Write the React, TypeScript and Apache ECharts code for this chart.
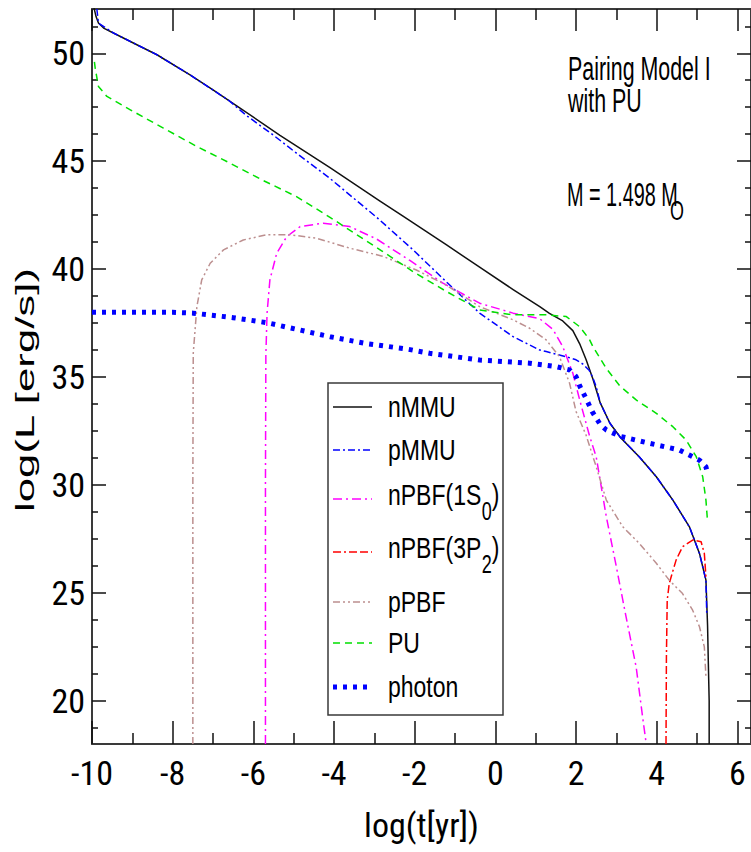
import React, { useEffect, useRef } from "react";
import * as echarts from "echarts";

// ---------- data ----------
const xMajorTicks = [-10, -8, -6, -4, -2, 0, 2, 4, 6];
const xMinorTicks = [-9, -7, -5, -3, -1, 1, 3, 5];
const yMajorTicks = [20, 25, 30, 35, 40, 45, 50];
const yMinorTicks = [
  18.75, 21.25, 22.5, 23.75, 26.25, 27.5, 28.75, 31.25, 32.5, 33.75, 36.25, 37.5, 38.75,
  41.25, 42.5, 43.75, 46.25, 47.5, 48.75, 51.25,
];

const nMMU = [
  [-9.95, 52.1], [-9.9, 51.7], [-9.84, 51.4], [-9.7, 51.15], [-9.47, 50.94], [-9.0, 50.5],
  [-8.39, 49.93], [-7.57, 49.0], [-7.0, 48.3], [-6.33, 47.46], [-5.34, 46.2], [-4.1, 44.7],
  [-2.86, 43.15], [-2.29, 42.45], [-1.21, 41.12], [-0.4, 40.1], [0.44, 39.05], [1.1, 38.26],
  [1.34, 37.95], [1.67, 37.6], [1.92, 37.15], [2.1, 36.5], [2.25, 35.8], [2.42, 34.9],
  [2.6, 33.8], [2.84, 32.86], [3.1, 32.2], [3.57, 31.3], [3.99, 30.38], [4.4, 29.3],
  [4.81, 28.06], [5.06, 26.83], [5.22, 25.59], [5.26, 23.5], [5.28, 21.7], [5.3, 20.0], [5.3, 18],
];
const pMMU = [
  [-9.88, 52.05], [-9.84, 51.4], [-9.47, 50.94], [-8.39, 49.93], [-7.57, 49.0], [-6.6, 47.8],
  [-6.16, 47.1], [-5.5, 46.2], [-4.93, 45.37], [-4.1, 44.2], [-2.9, 42.33],
  [-2.04, 40.89], [-1.21, 39.4], [-0.39, 37.96], [0.44, 36.87], [1.1, 36.25], [1.26, 36.18],
  [1.76, 35.94], [2.0, 35.8], [2.17, 35.6], [2.33, 35.3], [2.42, 34.95], [2.5, 34.55],
  [2.6, 33.8], [2.84, 32.86], [3.1, 32.2], [3.57, 31.3], [3.99, 30.38], [4.4, 29.3],
  [4.81, 28.06], [5.06, 26.83], [5.22, 25.59], [5.24, 24.0],
];
const nPBF1S0 = [
  [-5.7, 18], [-5.7, 30], [-5.69, 36], [-5.66, 37.96], [-5.59, 39.5], [-5.42, 40.74],
  [-5.17, 41.51], [-4.84, 41.97], [-4.27, 42.13], [-3.61, 41.97], [-2.95, 41.4], [-2.12, 40.4],
  [-1.3, 39.35], [-0.39, 38.42], [0.44, 37.96], [1.1, 37.7], [1.43, 37.2], [1.67, 36.41],
  [1.92, 35.18], [2.09, 33.94], [2.33, 32.3], [2.5, 31.3], [2.75, 28.53], [3.0, 26.2],
  [3.24, 23.89], [3.49, 21.57], [3.65, 19.25], [3.74, 18],
];
const nPBF3P2 = [
  [4.23, 18], [4.24, 22], [4.26, 24.66], [4.31, 25.44], [4.48, 26.52], [4.64, 27.14],
  [4.89, 27.45], [5.1, 27.37], [5.18, 26.83], [5.22, 25.74],
];
const pPBF = [
  [-7.5, 18], [-7.5, 30], [-7.49, 36.1], [-7.4, 38.26], [-7.28, 39.5], [-7.07, 40.27],
  [-6.74, 40.89], [-6.25, 41.35], [-5.67, 41.59], [-5.09, 41.59], [-4.43, 41.43], [-3.61, 40.97],
  [-2.8, 40.6], [-1.96, 39.96], [-1.21, 39.25], [-0.39, 38.26], [0.44, 37.65], [0.85, 37.26],
  [1.26, 36.72], [1.59, 35.94], [1.84, 34.71], [2.0, 33.4], [2.25, 32.3], [2.5, 30.84],
  [2.75, 29.3], [3.16, 28.06], [3.57, 27.29], [3.99, 26.37], [4.31, 25.59], [4.64, 24.97],
  [4.89, 24.2], [5.06, 23.43], [5.18, 22.5], [5.22, 21.1],
];
const PU = [
  [-9.94, 49.6], [-9.92, 49.3], [-9.84, 48.46], [-9.63, 48.0], [-9.05, 47.38], [-8.23, 46.53],
  [-7.4, 45.68], [-6.58, 44.91], [-5.75, 44.1], [-4.93, 43.36], [-4.1, 42.4], [-2.82, 40.85],
  [-2.04, 39.88], [-1.21, 38.96], [-0.39, 38.11], [0.44, 37.88], [1.26, 37.88], [1.76, 37.8],
  [2.09, 37.33], [2.33, 36.75], [2.42, 36.4], [2.75, 35.4], [3.08, 34.6], [3.49, 33.94],
  [3.99, 33.32], [4.4, 32.7], [4.73, 32.08], [4.98, 31.31], [5.14, 30.38], [5.22, 29.3],
  [5.26, 28.3],
];
const photon = [
  [-10, 38.0], [-9, 38.0], [-8, 38.0], [-7.49, 37.96], [-6.5, 37.75], [-5.67, 37.52],
  [-4.9, 37.2], [-4.1, 36.87], [-3.2, 36.55], [-2.2, 36.3], [-1.63, 36.1], [-0.39, 35.79],
  [0.85, 35.64], [1.51, 35.48], [1.84, 35.33], [2.0, 35.02], [2.1, 34.55], [2.25, 34.0],
  [2.4, 33.4], [2.6, 32.8], [2.75, 32.55], [3.1, 32.25], [3.82, 31.93], [4.56, 31.62],
  [5.06, 31.15], [5.22, 30.84], [5.25, 30.6],
];

// legend labels: main text, subscript, trailing text
const legendLabels = [
  ["nMMU", "", ""],
  ["pMMU", "", ""],
  ["nPBF(1S", "0", ")"],
  ["nPBF(3P", "2", ")"],
  ["pPBF", "", ""],
  ["PU", "", ""],
  ["photon", "", ""],
];

// ---------- styles ----------
const SERIES_STYLE = [
  { color: "#111111", dash: "solid", width: 1.5 },
  { color: "#0000ff", dash: [7, 3, 2, 3], width: 1.5 },
  { color: "#ff00ff", dash: [9, 4, 2, 4], width: 1.5 },
  { color: "#ff0000", dash: [8, 3, 2, 3, 8, 3], width: 1.5 },
  { color: "#bc8f8f", dash: [7, 3, 2, 3, 2, 3], width: 1.5 },
  { color: "#00e000", dash: [7, 5], width: 1.5 },
  { color: "#0000ff", dash: [4, 6], width: 5 },
];
const SERIES_DATA = [nMMU, pMMU, nPBF1S0, nPBF3P2, pPBF, PU, photon];
const SERIES_NAMES = ["nMMU", "pMMU", "nPBF(1S0)", "nPBF(3P2)", "pPBF", "PU", "photon"];

const FONT_N = "'Roboto Condensed', 'Liberation Sans', sans-serif";
const FONT = "'Liberation Sans', Arial, sans-serif";

const X_MIN = -10;
const X_MAX = 6.337;
const Y_MIN = 18;
const Y_MAX = 52.05;

// legend geometry
const LEG_BOX = { x: 328, y: 383, w: 175, h: 332 };
const LEG_LINE_Y = [407, 450, 499, 552, 602, 643, 687];

export default function App() {
  const ref = useRef<HTMLDivElement>(null);

  useEffect(() => {
    if (!ref.current) return;
    const chart = echarts.init(ref.current, null, { renderer: "svg" });

    const axisLineStyle = { color: "#3a3a3a", width: 2 };
    const tickStyle = { color: "#111", width: 1.5 };

    const xAxisBase = (position: string, length: number, ticks: number[], showLine: boolean, labels: boolean, extra: any = {}) => ({
      type: "value",
      position,
      min: X_MIN,
      max: X_MAX,
      axisLine: { show: showLine, onZero: false, lineStyle: axisLineStyle },
      axisTick: { show: true, inside: true, length, customValues: ticks, lineStyle: tickStyle },
      axisLabel: labels
        ? { show: true, customValues: ticks, fontSize: 34, fontFamily: FONT_N, color: "#000", margin: 12 }
        : { show: false },
      splitLine: { show: false },
      ...extra,
    });
    const yAxisBase = (position: string, length: number, ticks: number[], showLine: boolean, labels: boolean) => ({
      type: "value",
      position,
      min: Y_MIN,
      max: Y_MAX,
      axisLine: { show: showLine, onZero: false, lineStyle: axisLineStyle },
      axisTick: { show: true, inside: true, length, customValues: ticks, lineStyle: tickStyle },
      axisLabel: labels
        ? { show: true, customValues: ticks, fontSize: 34, fontFamily: FONT_N, color: "#000", margin: 7 }
        : { show: false },
      splitLine: { show: false },
    });

    const series = SERIES_DATA.map((data, i) => ({
      type: "line",
      name: SERIES_NAMES[i],
      data,
      symbol: "none",
      showSymbol: false,
      silent: true,
      z: 2,
      itemStyle: { color: SERIES_STYLE[i].color },
      lineStyle: {
        color: SERIES_STYLE[i].color,
        width: SERIES_STYLE[i].width,
        type: SERIES_STYLE[i].dash,
        cap: "butt",
        join: "round",
      },
    }));

    // legend drawn as graphics (box, sample lines, labels)
    const legendGraphics: any[] = [
      {
        type: "rect",
        z: 10,
        shape: { x: LEG_BOX.x, y: LEG_BOX.y, width: LEG_BOX.w, height: LEG_BOX.h },
        style: { fill: "#ffffff", stroke: "#3a3a3a", lineWidth: 1.5 },
      },
    ];
    const LF = 26, LSX = 0.885, LSY = 1.15;
    legendLabels.forEach(([main, sub, tail], i) => {
      const st = SERIES_STYLE[i];
      const y = LEG_LINE_Y[i];
      legendGraphics.push({
        type: "line",
        z: 11,
        shape: { x1: 333, y1: y, x2: 372, y2: y },
        style: {
          stroke: st.color,
          lineWidth: st.width,
          lineDash: st.dash === "solid" ? null : st.dash,
          lineCap: "butt",
        },
      });
      const ty = sub ? y - 4 : y;
      legendGraphics.push({
        type: "text",
        z: 11,
        x: 388,
        y: ty,
        scaleX: LSX,
        scaleY: LSY,
        style: { text: main, fontSize: LF, fontFamily: FONT, fill: "#000", verticalAlign: "middle" },
      });
      if (sub) {
        const rect = (echarts.format as any).getTextRect
          ? (echarts.format as any).getTextRect(main, `${LF}px ${FONT}`)
          : null;
        const mainW = rect ? rect.width * LSX : 93;
        const sx = 388 + mainW;
        legendGraphics.push({
          type: "text",
          z: 11,
          x: sx + 0.5,
          y: ty + 16,
          scaleX: 0.9,
          scaleY: 1.25,
          style: { text: sub, fontSize: 20, fontFamily: FONT, fill: "#000", verticalAlign: "middle" },
        });
        legendGraphics.push({
          type: "text",
          z: 11,
          x: sx + 10.5,
          y: ty,
          scaleX: LSX,
          scaleY: LSY,
          style: { text: tail, fontSize: LF, fontFamily: FONT, fill: "#000", verticalAlign: "middle" },
        });
      }
    });

    chart.setOption({
      animation: false,
      backgroundColor: "#ffffff",
      grid: { left: 92, top: 9, width: 660, height: 735, containLabel: false },
      xAxis: [
        xAxisBase("bottom", 23, xMajorTicks, true, true, {
          name: "log(t[yr])",
          nameLocation: "middle",
          nameGap: 64,
          nameTextStyle: { fontSize: 34, fontFamily: FONT_N, color: "#000" },
        }),
        xAxisBase("bottom", 11, xMinorTicks, false, false),
        xAxisBase("top", 22, xMajorTicks, true, false),
        xAxisBase("top", 11, xMinorTicks, false, false),
      ],
      yAxis: [
        yAxisBase("left", 14, yMajorTicks, true, true),
        yAxisBase("left", 6, yMinorTicks, false, false),
        yAxisBase("right", 14, yMajorTicks, true, false),
        yAxisBase("right", 6, yMinorTicks, false, false),
      ],
      graphic: [
        ...legendGraphics,
        {
          type: "text",
          x: 26,
          y: 390,
          rotation: Math.PI / 2,
          scaleX: 1.75,
          style: {
            text: "log(L [erg/s])",
            fontSize: 25,
            fontFamily: FONT,
            fill: "#000",
            align: "center",
            verticalAlign: "middle",
          },
        },
        {
          type: "text",
          x: 568,
          y: 69,
          scaleX: 0.69,
          scaleY: 1.05,
          style: { text: "Pairing Model I", fontSize: 31, fontFamily: FONT, fill: "#000", verticalAlign: "middle" },
        },
        {
          type: "text",
          x: 568,
          y: 101,
          scaleX: 0.69,
          scaleY: 1.05,
          style: { text: "with PU", fontSize: 31, fontFamily: FONT, fill: "#000", verticalAlign: "middle" },
        },
        {
          type: "text",
          x: 567,
          y: 195,
          scaleX: 0.64,
          scaleY: 1.05,
          style: { text: "M = 1.498 M", fontSize: 31, fontFamily: FONT, fill: "#000", verticalAlign: "middle" },
        },
        {
          type: "text",
          x: 670,
          y: 211,
          scaleX: 0.69,
          scaleY: 1.05,
          style: { text: "O", fontSize: 26, fontFamily: FONT, fill: "#000", verticalAlign: "middle" },
        },
      ],
      series,
    });

    return () => chart.dispose();
  }, []);

  return (
    <div
      ref={ref}
      style={{ position: "absolute", left: 0, top: 0, width: 751, height: 852, background: "#fff" }}
    />
  );
}
